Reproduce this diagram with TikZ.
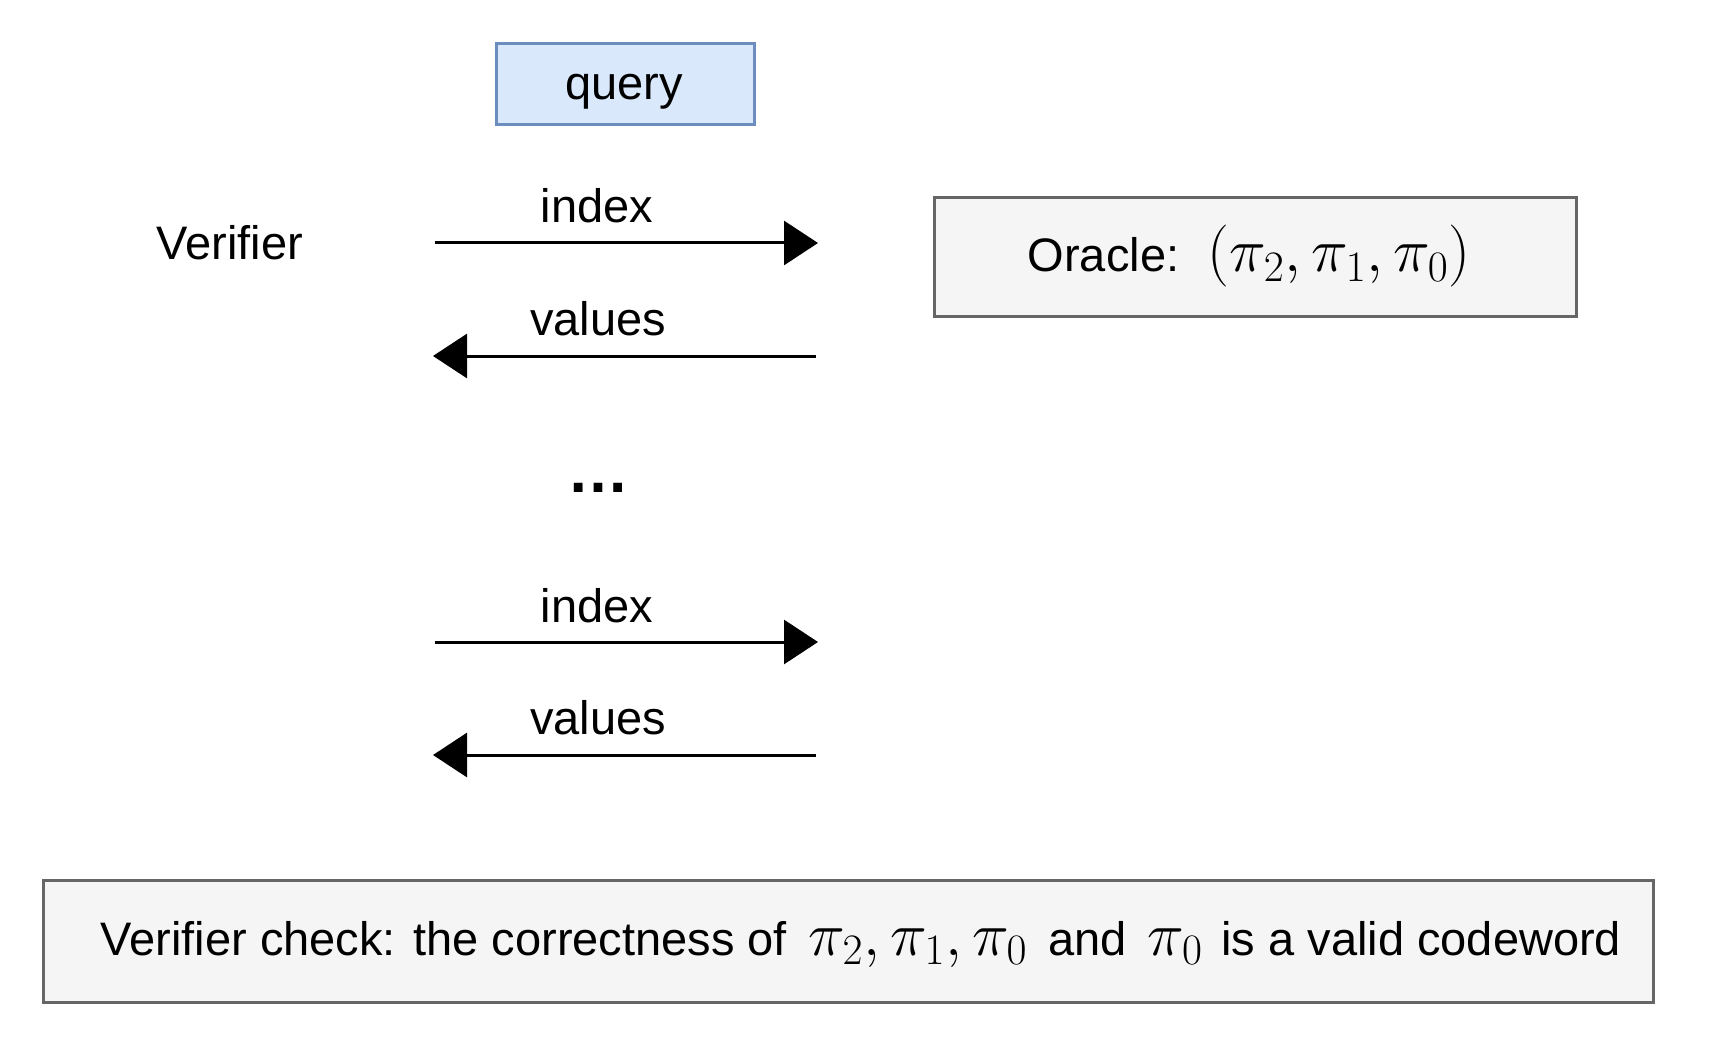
\RequirePackage{fix-cm}
\documentclass[tikz,border=0pt]{standalone}
\usepackage{fontspec}
\setmainfont{Liberation Sans}
\usetikzlibrary{arrows.meta}
\definecolor{qfill}{HTML}{DAE8FC}
\definecolor{qline}{HTML}{6C8EBF}
\definecolor{gfill}{HTML}{F5F5F5}
\definecolor{gline}{HTML}{666666}
% larger math set inside the sans text
\newcommand{\bigmath}[1]{{\fontsize{62}{70}\selectfont$#1$}}
\begin{document}
\begin{tikzpicture}[x=1pt,y=-1pt,
  txt/.style={font=\fontsize{47}{56}\selectfont, inner sep=0pt},
  lbl/.style={txt, anchor=base},
  msg/.style={line width=3pt, -{Triangle[length=34pt,width=44pt]}},
  querybox/.style={draw=qline, fill=qfill, line width=3pt, inner sep=0pt},
  graybox/.style={draw=gline, fill=gfill, line width=3pt, inner sep=0pt}]
\useasboundingbox (0,0) rectangle (1728,1056);

% query tag
\node[querybox, minimum width=258pt, minimum height=81pt] (qbox) at (625,84) {};
\node[lbl] (query) at (624,100) {query};

% participants
\node[lbl] (verifier) at (230,260) {Verifier};
\node[graybox, minimum width=642pt, minimum height=119pt] (oracle) at (1255,257.5) {};
\node[lbl] (oracletxt) at (1249,272) {Oracle:\hspace{0.6em}\bigmath{(\pi_2,\pi_1,\pi_0)}};

% first round
\coordinate (i1s) at (435,243);
\coordinate (i1e) at (818,243);
\draw[msg] (i1s) -- (i1e);
\node[lbl] (index1) at (597,223) {index};
\coordinate (v1s) at (816,356);
\coordinate (v1e) at (433,356);
\draw[msg] (v1s) -- (v1e);
\node[lbl] (values1) at (598,335) {values};

% omitted rounds
\node[txt, font=\fontsize{62}{70}\selectfont\bfseries, anchor=base] (dots) at (598,492) {\char"2026};

% last round
\coordinate (i2s) at (435,642);
\coordinate (i2e) at (818,642);
\draw[msg] (i2s) -- (i2e);
\node[lbl] (index2) at (597,622) {index};
\coordinate (v2s) at (816,755);
\coordinate (v2e) at (433,755);
\draw[msg] (v2s) -- (v2e);
\node[lbl] (values2) at (598,734) {values};

% final check
\node[graybox, minimum width=1610pt, minimum height=122pt] (check) at (848,941) {};
\node[lbl] (checktxt) at (861,955) {Verifier check: the correctness of\hspace{0.45em}\bigmath{\pi_2,\pi_1,\pi_0}\hspace{0.45em}and\hspace{0.45em}\bigmath{\pi_0}\hspace{0.4em}is a valid codeword};
\end{tikzpicture}
\end{document}
